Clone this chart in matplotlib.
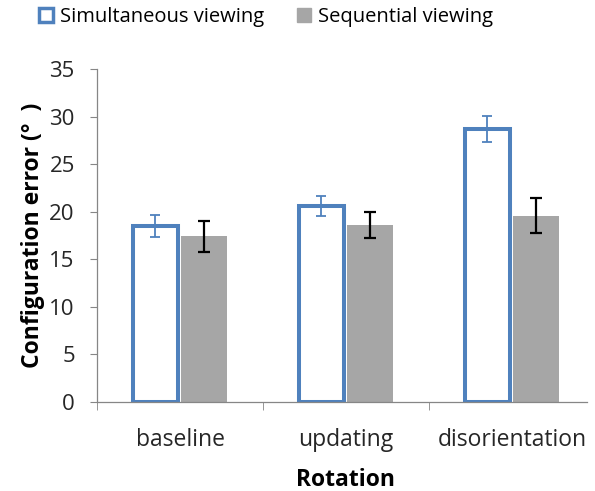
import numpy as np
import matplotlib
matplotlib.use("Agg")
import matplotlib.pyplot as plt
from matplotlib.patches import Patch

plt.rcParams['font.family'] = ['Open Sans', 'DejaVu Sans']

categories = ['baseline', 'updating', 'disorientation']
simultaneous = [18.5, 20.6, 28.7]
simultaneous_err = [1.2, 1.05, 1.4]
sequential = [17.4, 18.6, 19.6]
sequential_err = [1.6, 1.4, 1.85]

blue = '#4F81BD'
grey = '#A6A6A6'
axis_grey = '#868686'

fig = plt.figure(figsize=(5.95, 4.91), dpi=100)
ax = fig.add_axes([97 / 595, 1 - 402 / 491, 498 / 595, 333 / 491])

x = np.arange(len(categories))
w = 0.28
ax.bar(x - 0.15, simultaneous, 0.27, facecolor='white', edgecolor=blue, linewidth=2.9, zorder=2)
ax.bar(x + 0.145, sequential, w, color=grey, zorder=2)
ax.errorbar(x - 0.15, simultaneous, yerr=simultaneous_err, fmt='none', ecolor=blue,
            elinewidth=1.3, capsize=3.6, capthick=1.3, zorder=3)
ax.errorbar(x + 0.145, sequential, yerr=sequential_err, fmt='none', ecolor='black',
            elinewidth=1.6, capsize=4.3, capthick=1.6, zorder=3)

ax.set_xlim(-0.5, 2.5)
ax.set_ylim(0, 35)
ax.set_yticks(np.arange(0, 36, 5))
ax.set_xticks(x)
ax.set_xticklabels(categories)
ax.set_xticks([-0.5, 0.5, 1.5], minor=True)
ax.tick_params(axis='x', which='major', length=0, pad=19, labelsize=16.5, colors='#262626')
ax.tick_params(axis='x', which='minor', length=6, color=axis_grey)
ax.tick_params(axis='y', length=5, color=axis_grey, labelsize=16, pad=11, labelcolor='#262626')

for s in ['top', 'right']:
    ax.spines[s].set_visible(False)
for s in ['left', 'bottom']:
    ax.spines[s].set_color(axis_grey)
    ax.spines[s].set_linewidth(0.9)
ax.spines['bottom'].set_bounds(-0.5, 2.45)

ax.set_xlabel('Rotation', fontsize=16.5, fontweight='bold', labelpad=11)
ax.set_ylabel('Configuration error (°  )', fontsize=16.5, fontweight='bold', labelpad=3)

handles = [Patch(facecolor='white', edgecolor=blue, linewidth=2.5, label='Simultaneous viewing'),
           Patch(facecolor=grey, edgecolor=grey, label='Sequential viewing')]
fig.legend(handles=handles, loc='upper center', bbox_to_anchor=(0.447, 1.022), ncol=2,
           frameon=False, fontsize=14.5, handlelength=0.7, handleheight=0.7,
           handletextpad=0.35, columnspacing=1.6)

fig.savefig('out.png', dpi=100)
